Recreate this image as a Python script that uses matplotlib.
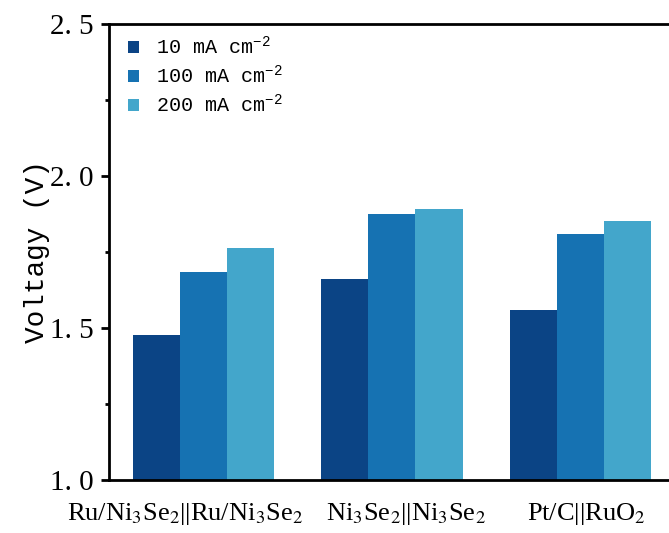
import numpy as np
import matplotlib
matplotlib.use("Agg")
import matplotlib.pyplot as plt
from matplotlib.ticker import MultipleLocator
from matplotlib.transforms import ScaledTranslation

plt.rcParams['font.family'] = ['Liberation Mono', 'DejaVu Sans']
plt.rcParams['mathtext.fontset'] = 'custom'
plt.rcParams['mathtext.rm'] = 'Liberation Mono'
plt.rcParams['mathtext.it'] = 'Liberation Mono'

# datos
grupos = [r'Ru/Ni$_3$Se$_2$||Ru/Ni$_3$Se$_2$', r'Ni$_3$Se$_2$||Ni$_3$Se$_2$', r'Pt/C||RuO$_2$']
series = ['10 mA cm$^{-2}$', '100 mA cm$^{-2}$', '200 mA cm$^{-2}$']
v10 = [1.477, 1.661, 1.559]
v100 = [1.684, 1.875, 1.809]
v200 = [1.763, 1.891, 1.852]
yticks = [1.0, 1.5, 2.0, 2.5]
ytick_labels = ['1. 0', '1. 5', '2. 0', '2. 5']

colores = ['#0b4485', '#1672b2', '#43a6cb']
# desplazamiento horizontal de las etiquetas (pixeles)
desplaz = [-18, 14, 6]

fig = plt.figure(figsize=(6.69, 5.33), dpi=100)
ax = fig.add_axes([0.1633, 0.0994, 0.845, 0.856])

x = np.arange(len(grupos))
w = 0.25
for i, (vals, lab) in enumerate(zip([v10, v100, v200], series)):
    ax.bar(x + (i - 1) * w, np.array(vals) - 1.0, w, bottom=1.0,
           color=colores[i], label=lab, linewidth=0)

ax.set_xlim(-0.5, 2.5)
ax.set_ylim(1.0, 2.5)
ax.set_yticks(yticks)
ax.set_yticklabels(ytick_labels, fontsize=21, family='Liberation Serif')
ax.yaxis.set_minor_locator(MultipleLocator(0.25))
ax.tick_params(axis='y', which='major', direction='out', length=6, width=2, pad=5)
ax.tick_params(axis='y', which='minor', direction='out', length=3, width=2)

ax.set_xticks(x)
ax.set_xticklabels(grupos, fontsize=19, family='Liberation Serif', math_fontfamily='stix')
ax.tick_params(axis='x', length=0, pad=15)
for t, d in zip(ax.get_xticklabels(), desplaz):
    t.set_transform(t.get_transform() + ScaledTranslation(d / 100, 0, fig.dpi_scale_trans))

for s in ax.spines.values():
    s.set_linewidth(2)

ax.set_ylabel('Voltagy (V)', fontsize=20, labelpad=0)

ax.legend(loc='upper left', bbox_to_anchor=(0.012, 1.0), frameon=False, fontsize=14.5,
          handlelength=0.55, handleheight=0.55, handletextpad=0.85, labelspacing=0.3,
          borderaxespad=0.2)

fig.savefig('out.png', dpi=100)
